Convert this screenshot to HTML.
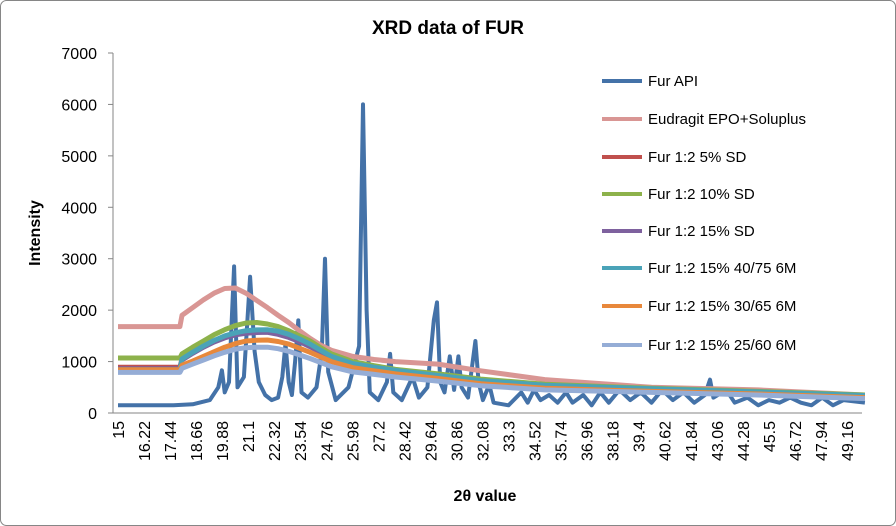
<!DOCTYPE html>
<html><head><meta charset="utf-8"><style>
body{margin:0;background:#fff}
svg{display:block;font-family:"Liberation Sans",sans-serif}
</style></head><body>
<svg id="chart" width="896" height="526">
<rect x="0.5" y="0.5" width="895" height="525" rx="6" fill="#fff" stroke="#868686"/>
<text x="448" y="34" text-anchor="middle" font-size="19" font-weight="bold">XRD data of FUR</text>
<text transform="translate(40,233) rotate(-90)" text-anchor="middle" font-size="16" font-weight="bold">Intensity</text>
<text x="485" y="501" text-anchor="middle" font-size="16" font-weight="bold">2θ value</text>
<g id="axes"></g><g id="series"></g><g id="legend"></g>
</svg>
<script>
const xTickLabels=["15","16.22","17.44","18.66","19.88","21.1","22.32","23.54","24.76","25.98","27.2","28.42","29.64","30.86","32.08","33.3","34.52","35.74","36.96","38.18","39.4","40.62","41.84","43.06","44.28","45.5","46.72","47.94","49.16"];
const yTicks=[0,1000,2000,3000,4000,5000,6000,7000];
const seriesNames=["Fur API","Eudragit EPO+Soluplus","Fur 1:2 5% SD","Fur 1:2 10% SD","Fur 1:2 15% SD","Fur 1:2 15% 40/75 6M","Fur 1:2 15% 30/65 6M","Fur 1:2 15% 25/60 6M"];
const seriesColors=["#4472a8","#d99694","#c0504d","#8db24b","#7e619e","#4aa3b8","#e8883b","#95add6"];
const apiX=[15,17.6,18.5,19.3,19.7,19.87,20.0,20.2,20.44,20.6,20.9,21.19,21.4,21.6,21.9,22.2,22.5,22.7,22.85,23.0,23.15,23.3,23.45,23.6,23.9,24.3,24.55,24.7,24.85,25.2,25.8,26.3,26.48,26.65,26.8,27.2,27.6,27.75,27.9,28.3,28.8,29.1,29.5,29.8,29.95,30.1,30.3,30.55,30.75,30.95,31.1,31.4,31.75,31.9,32.1,32.4,32.6,33.3,33.9,34.2,34.5,34.8,35.2,35.6,36.0,36.3,36.8,37.2,37.6,38.0,38.5,39.0,39.5,40.0,40.5,41.0,41.5,42.0,42.5,42.74,42.9,43.5,43.9,44.5,45,45.5,46,46.5,47,47.5,48,48.5,49,50];
const apiY=[150,150,170,250,500,830,400,600,2850,500,700,2650,1200,600,350,250,300,700,1350,600,350,1000,1800,400,300,500,1200,3000,800,250,500,1300,6000,2000,400,250,600,1150,400,250,700,300,500,1800,2150,600,400,1100,450,1100,500,300,1400,600,250,550,200,150,400,200,450,250,350,200,400,200,350,150,400,200,450,250,400,200,450,250,400,200,350,650,300,450,200,300,150,250,200,300,200,150,300,150,250,200];
const broadX=[15,17.9,18,18.5,19,19.5,20,20.5,21,21.5,22,22.5,23,23.5,24,24.5,25,26,27,28,30,32,35,40,45,50];
const eudragitY=[1680,1680,1900,2050,2200,2330,2420,2430,2330,2190,2050,1900,1760,1600,1450,1320,1220,1100,1040,1000,950,820,650,500,450,350];
const sd5Y=[890,890,1050,1170,1300,1400,1480,1530,1560,1575,1580,1540,1480,1400,1300,1190,1080,950,880,820,720,620,520,460,400,330];
const sd10Y=[1070,1070,1150,1280,1400,1520,1620,1700,1750,1760,1730,1680,1600,1500,1400,1270,1150,1000,920,850,760,660,560,480,420,350];
const sd15Y=[860,860,1030,1160,1280,1380,1460,1520,1550,1565,1570,1530,1470,1390,1290,1180,1070,940,870,810,710,610,520,460,400,330];
const m4075Y=[840,840,1050,1180,1300,1410,1500,1560,1600,1615,1620,1590,1530,1440,1340,1220,1100,960,890,830,730,630,540,470,410,340];
const m3065Y=[840,840,930,1010,1100,1190,1280,1350,1400,1415,1420,1390,1340,1260,1180,1090,1000,880,820,760,670,570,480,420,370,300];
const m2560Y=[790,790,870,950,1030,1110,1180,1240,1270,1280,1280,1250,1200,1130,1060,980,900,800,750,700,620,530,450,400,350,280];

const NS="http://www.w3.org/2000/svg";
const X0=113,X1=862,Y0=413,Y1=53;
function xs(v){return 118+(v-15)*21.34;}
function ys(v){return Y0-(v/7000)*(Y0-Y1);}
function mk(tag,attrs,parent){const e=document.createElementNS(NS,tag);for(const k in attrs)e.setAttribute(k,attrs[k]);parent.appendChild(e);return e;}
const axes=document.getElementById('axes');
let e=mk('line',{x1:X0,y1:Y1,x2:X0,y2:Y0,stroke:'#868686'},axes);


e=mk('line',{x1:X0,y1:Y0,x2:X1,y2:Y0,stroke:'#868686'},axes);


yTicks.forEach(t=>{
  const y=ys(t);
  const l=mk('line',{x1:X0-5,y1:y,x2:X0,y2:y,stroke:'#868686'},axes);
  
  
  const tx=mk('text',{x:97,y:y+6,'text-anchor':'end','font-size':16},axes);
  tx.textContent=t;
  
  
});
xTickLabels.forEach(s=>{
  const x=xs(parseFloat(s));
  const tx=mk('text',{transform:`translate(${x+6},421) rotate(-90)`,'text-anchor':'end','font-size':16},axes);
  tx.textContent=s;
  
  
});
const sg=document.getElementById('series');
function draw(xArr,yArr,i,w){
  const d=xArr.map((v,k)=>(k?'L':'M')+xs(v).toFixed(1)+','+ys(yArr[k]).toFixed(1)).join('');
  const p=mk('path',{d:d,fill:'none',stroke:seriesColors[i],'stroke-width':w,'stroke-linejoin':'round'},sg);
  
  
}
draw(apiX,apiY,0,4);
[eudragitY,sd5Y,sd10Y,sd15Y,m4075Y,m3065Y,m2560Y].forEach((arr,i)=>draw(broadX,arr,i+1,5));
const lg=document.getElementById('legend');
const rows=[81,119,157,194,231,268,306,345];
seriesNames.forEach((n,i)=>{
  const l=mk('line',{x1:602,y1:rows[i],x2:642,y2:rows[i],stroke:seriesColors[i],'stroke-width':4},lg);
  
  
  const t=mk('text',{x:648,y:rows[i]+5,'font-size':15},lg);
  t.textContent=n;
  
  
});
</script>
</body></html>
